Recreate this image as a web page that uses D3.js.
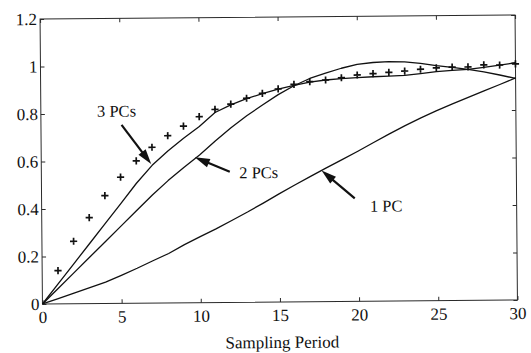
<!DOCTYPE html>
<html><head><meta charset="utf-8">
<script src="https://cdn.jsdelivr.net/npm/d3@7"></script>
<style>body{margin:0;background:#fff}svg{display:block}</style>
</head><body>
<svg id="c" width="531" height="353"></svg>
<script>
// ---- data ----
const periods = [0,1,2,3,4,5,6,7,8,9,10,11,12,13,14,15,16,17,18,19,20,21,22,23,24,25,26,27,28,29,30];
const onePC   = [0,0.022,0.045,0.067,0.09,0.118,0.147,0.178,0.208,0.245,0.278,0.31,0.345,0.38,0.417,0.455,0.492,0.528,0.563,0.597,0.632,0.668,0.704,0.738,0.77,0.8,0.828,0.855,0.882,0.908,0.935];
const twoPC   = [0,0.065,0.13,0.195,0.26,0.325,0.39,0.455,0.515,0.57,0.622,0.68,0.735,0.785,0.83,0.873,0.91,0.94,0.962,0.982,0.998,1.005,1.008,1.007,1.0,0.99,0.982,0.973,0.962,0.948,0.933];
const threePC = [0,0.084,0.168,0.252,0.336,0.42,0.505,0.58,0.64,0.693,0.742,0.8,0.832,0.857,0.878,0.896,0.912,0.925,0.933,0.938,0.942,0.945,0.947,0.95,0.957,0.964,0.969,0.973,0.981,0.99,0.999];
const markerPeriods = [1,2,3,4,5,6,7,8,9,10,11,12,13,14,15,16,17,18,19,20,21,22,23,24,25,26,27,28,29,30];
const measured = [0.14,0.263,0.362,0.454,0.531,0.599,0.656,0.704,0.744,0.783,0.813,0.835,0.859,0.879,0.897,0.916,0.927,0.933,0.942,0.953,0.958,0.963,0.968,0.975,0.98,0.983,0.983,0.991,0.99,0.994];
const xTicks = [0,5,10,15,20,25,30];
const xTickLabels = ["0","5","10","15","20","25","30"];
const yTicks = [0,0.2,0.4,0.6,0.8,1,1.2];
const yTickLabels = ["0","0.2","0.4","0.6","0.8","1","1.2"];
const annLabels = ["3 PCs","2 PCs","1 PC"];
const annTip  = [[6.94,0.586],[9.7,0.612],[17.7,0.552]];
const annTail = [[5.09,0.751],[11.9,0.55],[19.78,0.434]];
const annText = [[4.78,0.786,"middle"],[12.5,0.522,"start"],[20.73,0.377,"start"]];
const xTitle = "Sampling Period";

// ---- drawing ----
const FONT = "'Liberation Serif','Times New Roman',serif";
const svg = d3.select("#c");
const L = 41.25, R = 516.25, T = 17, B = 302;
const x = d3.scaleLinear().domain([0,30]).range([L,R]);
const y = d3.scaleLinear().domain([0,1.2]).range([B,T]);
const g = svg.append("g").attr("transform", `rotate(-0.48 ${(L+R)/2} ${(T+B)/2})`);

// frame
g.append("rect").attr("x",L).attr("y",T).attr("width",R-L).attr("height",B-T)
  .attr("fill","none").attr("stroke","#2a2a2a").attr("stroke-width",1);

// axes with inward ticks
const tk = 4;
const ax = d3.axisBottom(x).tickValues(xTicks).tickSize(-tk).tickPadding(5)
  .tickFormat((d,i)=>xTickLabels[i]);
const gx = g.append("g").attr("transform",`translate(0,${B})`).call(ax);
const axT = d3.axisTop(x).tickValues(xTicks).tickSize(-tk).tickFormat("");
g.append("g").attr("transform",`translate(0,${T})`).call(axT);
const ay = d3.axisLeft(y).tickValues(yTicks).tickSize(-tk).tickPadding(4)
  .tickFormat((d,i)=>yTickLabels[i]);
const gy = g.append("g").attr("transform",`translate(${L},0)`).call(ay);
const ayR = d3.axisRight(y).tickValues(yTicks).tickSize(-tk).tickFormat("");
g.append("g").attr("transform",`translate(${R},0)`).call(ayR);
g.selectAll(".domain").remove();
g.selectAll(".tick line").attr("stroke","#2a2a2a");
g.selectAll(".tick text").attr("font-family",FONT).attr("font-size",17).attr("fill","#111");
gx.selectAll(".tick text").attr("dy","0.71em").attr("y",7);
gy.selectAll(".tick text").attr("x",-3);

// lines
const line = d3.line().x((d,i)=>x(periods[i])).y(d=>y(d));
[onePC, twoPC, threePC].forEach(s=>{
  g.append("path").datum(s).attr("d",line).attr("fill","none")
   .attr("stroke","#111").attr("stroke-width",1.3).attr("stroke-linejoin","round");
});

// markers
g.append("g").selectAll("path").data(measured).join("path")
  .attr("transform",(d,i)=>`translate(${x(markerPeriods[i])},${y(d)})`)
  .attr("d","M-3.6,0H3.6M0,-3.6V3.6")
  .attr("stroke","#111").attr("stroke-width",1.7).attr("fill","none");

// annotations with arrows
annLabels.forEach((lab,i)=>{
  const tx = x(annTip[i][0]), ty = y(annTip[i][1]);
  const sx = x(annTail[i][0]), sy = y(annTail[i][1]);
  const dx = tx-sx, dy = ty-sy, len = Math.hypot(dx,dy), ux = dx/len, uy = dy/len;
  const hl = 15, hw = 4.5;
  const bx = tx-ux*hl, by = ty-uy*hl;
  g.append("line").attr("x1",sx).attr("y1",sy).attr("x2",bx+ux*2).attr("y2",by+uy*2)
    .attr("stroke","#111").attr("stroke-width",2.2);
  g.append("path").attr("d",`M${tx},${ty}L${bx-uy*hw},${by+ux*hw}L${bx+uy*hw},${by-ux*hw}Z`)
    .attr("fill","#111");
  g.append("text").attr("x",x(annText[i][0])).attr("y",y(annText[i][1]))
    .attr("text-anchor",annText[i][2]).attr("font-family",FONT).attr("font-size",16.5)
    .attr("fill","#111").text(lab);
});

// axis title
g.append("text").attr("x",(L+R)/2+2).attr("y",B+46).attr("text-anchor","middle")
  .attr("font-family",FONT).attr("font-size",17).attr("fill","#111").text(xTitle);
</script>
</body></html>
